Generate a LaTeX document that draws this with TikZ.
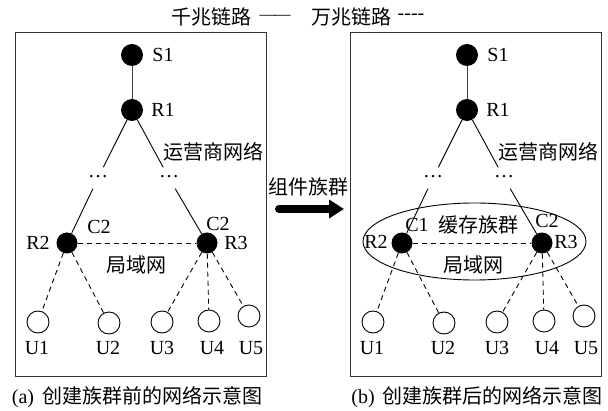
\documentclass[tikz,border=0pt]{standalone}
\usepackage{fontspec}
\setmainfont{Liberation Serif}
\newfontfamily\cjk{Noto Sans CJK SC}
\usetikzlibrary{arrows.meta,shapes.geometric}
\begin{document}
\begin{tikzpicture}[x=1pt,y=-1pt,
  every node/.style={font=\fontsize{20}{20}\selectfont, inner sep=0pt},
  bnode/.style={circle, fill=black, minimum size=22pt},
  unode/.style={circle, draw, line width=0.9pt, minimum size=22pt},
  dotsn/.style={text height=10pt, text depth=11pt, minimum width=14pt},
  solidl/.style={line width=0.9pt},
  dashl/.style={line width=0.9pt, dash pattern=on 5pt off 4pt},
  frame/.style={draw=black!80, line width=1.1pt, minimum width=251pt, minimum height=344pt, anchor=north west},
  captext/.style={font=\fontsize{20}{20}\selectfont}]
\useasboundingbox (0,0) rectangle (608,411);

% legend
\node (lg1) at (211,17) {\cjk 千兆链路};
\node (lg2) at (275,17) {\fontsize{16}{16}\selectfont —\kern-1pt—};
\node (lg3) at (351,17) {\cjk 万兆链路};
\node (lg4) at (411,17) {-{}-{}-{}-};

\foreach \p/\dx in {a/0,b/335}{
\begin{scope}[xshift=\dx]
  \node[frame] (box\p) at (15,32) {};
  \node[bnode] (s\p) at (132,55) {};
  \node[bnode] (ra\p) at (132,110) {};
  \node (ls\p) at (163,55) {S1};
  \node (lr\p) at (163,110) {R1};
  \node (net\p) at (213,152) {\cjk 运营商网络};
  \node[dotsn] (da\p) at (98,178) {…};
  \node[dotsn] (db\p) at (169,178) {…};
  \node[bnode, minimum size=21pt] (rb\p) at (67,243) {};
  \node[bnode, minimum size=21pt] (rc\p) at (207,243) {};
  \node[unode] (ua\p) at (38,322) {};
  \node[unode] (ub\p) at (109,323) {};
  \node[unode] (uc\p) at (162,322) {};
  \node[unode] (ud\p) at (209,321) {};
  \node[unode] (ue\p) at (249,316) {};
  \node (lua\p) at (37,348) {U1};
  \node (lub\p) at (108,348) {U2};
  \node (luc\p) at (162,348) {U3};
  \node (lud\p) at (212,348) {U4};
  \node (lue\p) at (251,348) {U5};
  \draw[solidl, black!75] (s\p) -- (ra\p);
  \draw[solidl] (ra\p) -- (da\p) -- (rb\p);
  \draw[solidl] (ra\p) -- (db\p) -- (rc\p);
  \draw[dashl] (rb\p) -- (rc\p);
  \draw[dashl] (rb\p) -- (ua\p);
  \draw[dashl] (rb\p) -- (ub\p);
  \draw[dashl] (rc\p) -- (uc\p);
  \draw[dashl] (rc\p) -- (ud\p);
  \draw[dashl] (rc\p) -- (ue\p);
\end{scope}
}

% left panel labels
\node (c2l) at (99,227) {C2};
\node (c2r) at (218,224) {C2};
\node (r2l) at (38,243) {R2};
\node (r3l) at (236,243) {R3};
\node (lan1) at (136,265) {\cjk 局域网};

% right panel
\node[ellipse, draw, line width=0.9pt, minimum width=223pt, minimum height=77pt] (cl) at (474.5,241.5) {};
\node (c1b) at (417,225) {C1};
\node (clt) at (478,225) {\cjk 缓存族群};
\node (c2b) at (547,221) {C2};
\node (r2b) at (376,242) {R2};
\node (r3b) at (566,242) {R3};
\node (lan2) at (473,265) {\cjk 局域网};

% arrow
\node (arl) at (308,187) {\cjk 组件族群};
\coordinate (a0) at (279,209);
\coordinate (a1) at (344,209);
\draw[line width=8pt, line cap=round, -{Triangle[length=15pt,width=18pt]}] (a0) -- (a1);

% captions
\node[captext] (capa) at (137,397) {(a)\hspace{8pt}{\cjk 创建族群前的网络示意图}};
\node[captext] (capb) at (477,397) {(b)\hspace{8pt}{\cjk 创建族群后的网络示意图}};
\end{tikzpicture}
\end{document}
